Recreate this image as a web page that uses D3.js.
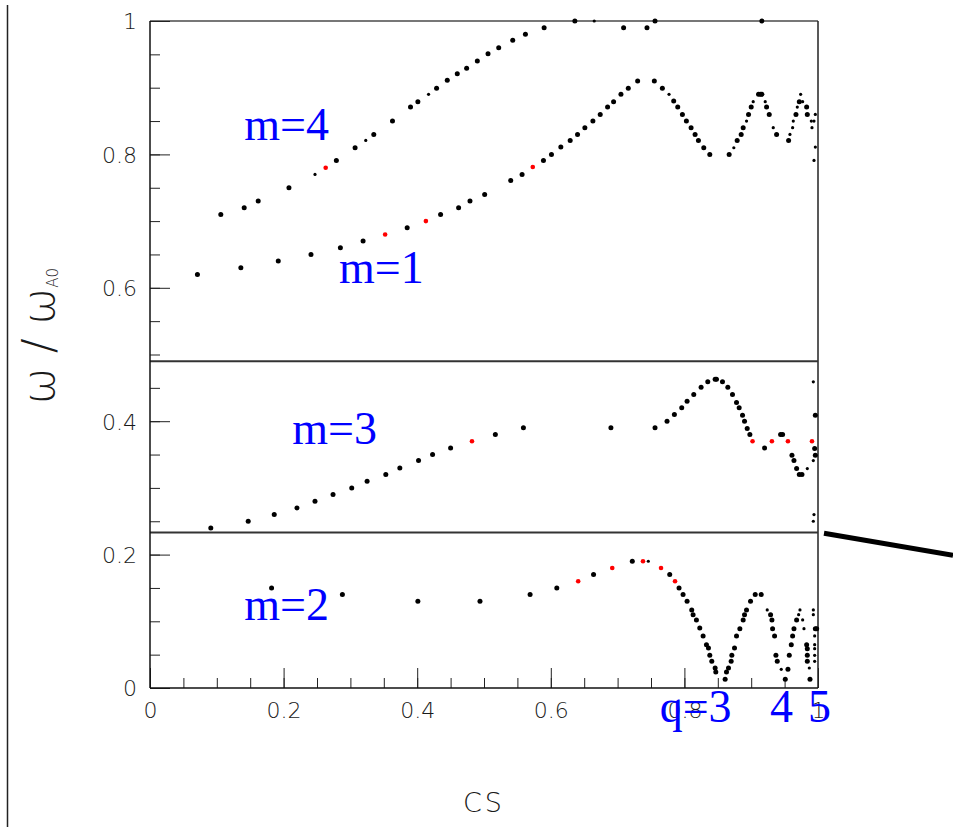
<!DOCTYPE html>
<html>
<head>
<meta charset="utf-8">
<script src="https://cdn.jsdelivr.net/npm/d3@7"></script>
<style>
  html, body { margin: 0; padding: 0; background: #fff; }
  svg { display: block; }
  .tick text { font-family: "DejaVu Sans", sans-serif; font-weight: 200; fill: #1a1a1a; }
</style>
</head>
<body>
<svg id="chart" width="953" height="827"></svg>
<script>
// Eigenfrequencies omega/omega_A0 versus CS, grouped by poloidal mode number m.
// Each series: [CS, omega/omega_A0]. "strong" = regular marker, "weak" = small marker,
// "marked" = highlighted (red) modes.

const m4Strong = [[0.106,0.710],[0.141,0.720],[0.162,0.730],[0.208,0.750],[0.279,0.791],[0.307,0.810],[0.335,0.830],[0.363,0.850],[0.390,0.871],[0.401,0.879],[0.429,0.899],[0.445,0.911],[0.460,0.921],[0.474,0.929],[0.490,0.940],[0.506,0.951],[0.522,0.960],[0.543,0.971],[0.562,0.980],[0.590,0.990],[0.636,1.0],[0.709,0.990],[0.744,0.990],[0.756,1.0],[0.916,1.0]];
const m4Weak = [[0.247,0.770],[0.323,0.821],[0.417,0.890],[0.665,1.0]];
const m4Marked = [[0.263,0.780]];

const m1Strong = [[0.071,0.620],[0.136,0.630],[0.192,0.640],[0.241,0.650],[0.285,0.660],[0.319,0.670],[0.385,0.690],[0.435,0.710],[0.462,0.720],[0.479,0.730],[0.501,0.740],[0.540,0.761],[0.557,0.770],[0.589,0.791],[0.601,0.800],[0.615,0.811],[0.629,0.821],[0.640,0.830],[0.651,0.840],[0.663,0.850],[0.674,0.860],[0.685,0.871],[0.694,0.879],[0.705,0.890],[0.716,0.899],[0.730,0.910],[0.755,0.910],[0.767,0.899],[0.784,0.880],[0.790,0.871],[0.797,0.860],[0.803,0.850],[0.810,0.840],[0.816,0.830],[0.821,0.821],[0.829,0.810],[0.838,0.800],[0.867,0.800],[0.879,0.821],[0.885,0.830],[0.888,0.840],[0.896,0.860],[0.900,0.871],[0.911,0.890],[0.914,0.890],[0.916,0.890],[0.923,0.871],[0.927,0.860],[0.938,0.830],[0.956,0.821],[0.967,0.860],[0.972,0.879],[0.983,0.871],[0.984,0.860]];
const m1Weak = [[0.777,0.890],[0.874,0.810],[0.893,0.850],[0.903,0.879],[0.921,0.879],[0.933,0.840],[0.958,0.830],[0.962,0.840],[0.963,0.850],[0.969,0.871],[0.974,0.890],[0.977,0.879],[0.990,0.850],[0.994,0.850],[0.991,0.840],[0.996,0.860],[0.996,0.811],[0.994,0.791]];
const m1Marked = [[0.352,0.680],[0.413,0.700],[0.573,0.781]];

const m3Strong = [[0.091,0.240],[0.147,0.250],[0.186,0.260],[0.220,0.270],[0.247,0.280],[0.274,0.290],[0.302,0.300],[0.325,0.310],[0.353,0.320],[0.374,0.330],[0.402,0.341],[0.423,0.350],[0.450,0.360],[0.517,0.380],[0.559,0.390],[0.690,0.390],[0.756,0.390],[0.774,0.400],[0.785,0.410],[0.796,0.420],[0.804,0.430],[0.814,0.440],[0.825,0.451],[0.835,0.459],[0.846,0.463],[0.848,0.463],[0.857,0.459],[0.865,0.451],[0.872,0.440],[0.878,0.428],[0.882,0.420],[0.887,0.409],[0.890,0.400],[0.894,0.389],[0.898,0.380],[0.920,0.360],[0.944,0.380],[0.947,0.380],[0.961,0.349],[0.964,0.341],[0.968,0.329],[0.972,0.320],[0.976,0.320],[0.996,0.409],[0.995,0.359],[0.996,0.349]];
const m3Weak = [[0.984,0.329],[0.993,0.459],[0.993,0.341],[0.994,0.260],[0.993,0.250]];
const m3Marked = [[0.482,0.370],[0.902,0.370],[0.931,0.370],[0.955,0.370],[0.991,0.370]];

const m2Strong = [[0.182,0.150],[0.288,0.140],[0.401,0.130],[0.494,0.130],[0.569,0.140],[0.609,0.150],[0.664,0.170],[0.722,0.190],[0.778,0.170],[0.792,0.150],[0.798,0.140],[0.804,0.130],[0.811,0.117],[0.813,0.110],[0.818,0.102],[0.823,0.090],[0.828,0.078],[0.833,0.065],[0.836,0.060],[0.838,0.049],[0.841,0.040],[0.846,0.030],[0.847,0.024],[0.861,0.013],[0.863,0.024],[0.866,0.030],[0.870,0.040],[0.871,0.049],[0.875,0.060],[0.878,0.078],[0.883,0.089],[0.888,0.102],[0.890,0.110],[0.893,0.117],[0.899,0.130],[0.906,0.140],[0.915,0.140],[0.929,0.110],[0.931,0.102],[0.932,0.089],[0.935,0.078],[0.937,0.049],[0.939,0.040],[0.951,0.013],[0.955,0.028],[0.957,0.049],[0.960,0.065],[0.962,0.078],[0.964,0.089],[0.968,0.102],[0.983,0.065],[0.984,0.059],[0.984,0.049],[0.984,0.040],[0.988,0.013],[0.996,0.089],[0.998,0.089]];
const m2Weak = [[0.746,0.190],[0.924,0.117],[0.945,0.028],[0.971,0.110],[0.973,0.117],[0.977,0.102],[0.979,0.089],[0.987,0.030],[0.993,0.117],[0.993,0.110],[0.995,0.078],[0.995,0.065],[0.995,0.059],[0.995,0.049],[0.995,0.040]];
const m2Marked = [[0.641,0.160],[0.692,0.180],[0.738,0.190],[0.765,0.180],[0.786,0.160]];

// Boundaries separating the frequency bands of the different m
const bandEdges = [0.49, 0.233];

// Axis ticks
const majorTicks = [0, 0.2, 0.4, 0.6, 0.8, 1];
const minorTicks = d3.range(0, 1.0001, 0.05);
const tickLabels = ["0", "0.2", "0.4", "0.6", "0.8", "1"];

// Text annotations anchored in data coordinates
const modeLabels = [
  {text: "m=4", cs: 0.141, w: 0.822},
  {text: "m=1", cs: 0.283, w: 0.607},
  {text: "m=3", cs: 0.213, w: 0.366},
  {text: "m=2", cs: 0.141, w: 0.102},
  {text: "q=3", cs: 0.763, w: -0.051},
  {text: "4",   cs: 0.928, w: -0.051},
  {text: "5",   cs: 0.985, w: -0.051}
];

const svg = d3.select("#chart");
const W = 953, H = 827;

const x = d3.scaleLinear().domain([0, 1]).range([150, 818]);
const y = d3.scaleLinear().domain([0, 1]).range([688, 21]);

// Outer rule on the far left
svg.append("line")
  .attr("x1", 7.5).attr("x2", 7.5).attr("y1", 5).attr("y2", H)
  .attr("stroke", "#222").attr("stroke-width", 1.5);

// Frame: top edge and right edge
svg.append("line")
  .attr("x1", x(0)).attr("x2", x(1)).attr("y1", y(1)).attr("y2", y(1))
  .attr("stroke", "#777").attr("stroke-width", 2);
svg.append("line")
  .attr("x1", x(1)).attr("x2", x(1)).attr("y1", y(1)).attr("y2", y(0))
  .attr("stroke", "#222").attr("stroke-width", 1.5);

// Band separators
svg.selectAll("line.band").data(bandEdges).join("line")
  .attr("class", "band")
  .attr("x1", x(0)).attr("x2", x(1))
  .attr("y1", d => y(d)).attr("y2", d => y(d))
  .attr("stroke", "#333").attr("stroke-width", 2);

// Y axis: minor ticks, then labelled major ticks (ticks point into the frame)
const fmt = (d) => tickLabels[majorTicks.indexOf(d)];
svg.append("g").attr("transform", `translate(${x(0)},0)`)
  .call(d3.axisLeft(y).tickValues(minorTicks).tickSizeInner(-10).tickSizeOuter(0).tickFormat(""))
  .call(g => g.select(".domain").remove())
  .call(g => g.selectAll("line").attr("stroke", "#222"));
svg.append("g").attr("transform", `translate(${x(0)},0)`)
  .call(d3.axisLeft(y).tickValues(majorTicks).tickSizeInner(-20).tickSizeOuter(0).tickPadding(13).tickFormat(fmt))
  .call(g => g.select(".domain").remove())
  .call(g => g.selectAll("line").attr("stroke", "#222"))
  .call(g => g.selectAll("text").attr("font-size", 22).attr("dy", "0.36em"));

// X axis
svg.append("g").attr("transform", `translate(0,${y(0)})`)
  .call(d3.axisBottom(x).tickValues(minorTicks).tickSizeInner(-10).tickSizeOuter(0).tickFormat(""))
  .call(g => g.select(".domain").remove())
  .call(g => g.selectAll("line").attr("stroke", "#222"));
svg.append("g").attr("transform", `translate(0,${y(0)})`)
  .call(d3.axisBottom(x).tickValues(majorTicks).tickSizeInner(-20).tickSizeOuter(0).tickPadding(14).tickFormat(fmt))
  .call(g => g.select(".domain").remove())
  .call(g => g.selectAll("line").attr("stroke", "#222"))
  .call(g => g.selectAll("text").attr("font-size", 22));

// Axis lines
svg.append("line")
  .attr("x1", x(0)).attr("x2", x(0)).attr("y1", y(1)).attr("y2", y(0))
  .attr("stroke", "#111").attr("stroke-width", 1.5);
svg.append("line")
  .attr("x1", x(0)).attr("x2", x(1)).attr("y1", y(0)).attr("y2", y(0))
  .attr("stroke", "#111").attr("stroke-width", 1.5);

// Axis titles
svg.append("text")
  .attr("x", x(0.5)).attr("y", 812)
  .attr("text-anchor", "middle")
  .attr("font-family", "DejaVu Sans, sans-serif").attr("font-weight", 200)
  .attr("font-size", 27).attr("letter-spacing", 3).attr("fill", "#1a1a1a")
  .text("CS");

const yTitle = svg.append("text")
  .attr("transform", "translate(54,336) rotate(-90)")
  .attr("text-anchor", "middle")
  .attr("font-family", "DejaVu Sans, sans-serif").attr("font-weight", 200)
  .attr("font-size", 44).attr("fill", "#1a1a1a");
yTitle.append("tspan").text("ω / ω");
yTitle.append("tspan").attr("font-size", 15).attr("dy", 4).text("A0");

// Pointer line leaving the frame
svg.append("line")
  .attr("x1", x(1) + 6).attr("y1", y(0.232))
  .attr("x2", W).attr("y2", y(0.232) + 22)
  .attr("stroke", "#000").attr("stroke-width", 5);

// Mode labels
svg.selectAll("text.mode").data(modeLabels).join("text")
  .attr("class", "mode")
  .attr("x", d => x(d.cs)).attr("y", d => y(d.w))
  .attr("font-family", "Liberation Serif, Times New Roman, serif")
  .attr("font-size", 46).attr("fill", "#0000ff")
  .text(d => d.text);

// Data markers
const groups = [
  {data: [].concat(m4Strong, m1Strong, m3Strong, m2Strong), r: 2.5, fill: "#000"},
  {data: [].concat(m4Weak, m1Weak, m3Weak, m2Weak), r: 1.6, fill: "#000"},
  {data: [].concat(m4Marked, m1Marked, m3Marked, m2Marked), r: 2.3, fill: "#ff0000"}
];
groups.forEach(gp => {
  svg.append("g").selectAll("circle").data(gp.data).join("circle")
    .attr("cx", d => x(d[0])).attr("cy", d => y(d[1]))
    .attr("r", gp.r).attr("fill", gp.fill);
});
</script>
</body>
</html>
